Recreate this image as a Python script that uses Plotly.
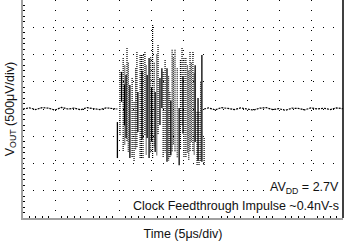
import plotly.graph_objects as go

# Units: x in time divisions (5 us/div), y in vertical divisions (500 uV/div)
# Burst: solid vertical strokes (x, top, bottom)
solid_x   = [2.95, 3.08, 3.17, 3.22, 3.34, 3.59, 3.72, 3.88, 3.94, 4.02, 4.13, 4.28, 4.34, 4.50,
             4.62, 4.88, 5.00, 5.38, 5.47, 5.59]
solid_top = [-0.48, 1.36, 0.90, 1.25, 0.88, 0.62, 1.40, 1.25, 1.87, 0.80, 0.62, 1.14, 1.50, 1.50,
             0.30, 0.04, 1.20, 1.61, 0.40, 1.98]
solid_bot = [-1.80, 0.26, -0.60, -1.06, -1.80, -0.84, -1.10, -1.06, -1.80, -1.20, -1.58, -0.59, 0.04, -1.94,
             -1.70, -2.06, -0.90, -1.21, -1.90, -1.94]

# Burst: dotted vertical strokes
dot_x   = [3.03, 3.13, 3.18, 3.25, 3.29, 3.41, 3.47, 3.52, 3.56, 3.66, 3.70, 3.75, 3.81, 3.85,
           3.99, 4.05, 4.10, 4.18, 4.22, 4.38, 4.44, 4.55, 4.59, 4.66, 4.70, 4.75, 4.82, 4.92,
           4.97, 5.03, 5.09, 5.14, 5.18, 5.22, 5.26, 5.31, 5.35, 5.44, 5.50, 5.55, 5.66]
dot_top = [1.36, 1.87, 1.60, 2.24, 1.70, 1.14, 0.26, 1.50, 2.09, 1.98, 1.98, 1.98, 2.09, 1.60,
           1.90, 3.08, 1.70, 2.00, 2.35, 1.36, 1.80, 1.20, 0.62, 2.17, 1.90, 2.17, 1.50, 1.80,
           2.24, 1.87, 1.87, 1.60, 1.40, 2.09, 1.70, 2.09, 1.30, -0.11, -0.11, 1.00, -1.06]
dot_bot = [-0.95, -1.58, -1.30, -1.21, -1.60, -1.80, -1.94, -1.50, -1.43, -1.80, -1.80, -1.80, -0.95, -1.70,
           -1.60, -1.80, -1.40, -1.70, -0.95, -1.80, -1.60, -1.90, -1.80, -1.58, -1.30, -1.58, -1.80, -1.50,
           -0.59, -1.80, -1.80, -1.60, -1.90, -1.58, -1.20, -1.58, -1.70, -2.06, -2.06, -1.90, -2.06]

# Baseline (quiet) trace before and after the burst
base_left_x = [0.0, 0.2, 0.4, 0.6, 0.8, 1.0, 1.2, 1.4, 1.6, 1.8, 2.0, 2.2, 2.4, 2.6, 2.8, 2.95]
base_left_y = [0.00, 0.04, -0.02, 0.05, 0.03, -0.04, 0.06, 0.00, 0.03, -0.03, 0.05, 0.01, -0.02, 0.04, 0.02, 0.00]
base_right_x = [5.66, 5.8, 6.0, 6.2, 6.4, 6.6, 6.8, 7.0, 7.2, 7.4, 7.6, 7.8, 8.0, 8.2, 8.4, 8.6,
                8.8, 9.0, 9.2, 9.4, 9.6, 9.8, 10.0]
base_right_y = [0.00, 0.04, -0.03, 0.05, 0.02, -0.02, 0.04, 0.00, -0.04, 0.03, 0.05, -0.02, 0.01,
                -0.05, 0.03, 0.02, -0.03, 0.04, 0.00, 0.03, -0.02, 0.04, 0.01]

x_range = [0, 10]
y_range = [-4, 4]


def segs(xs, tops, bots):
    X, Y = [], []
    for x, t, b in zip(xs, tops, bots):
        X += [x, x, None]
        Y += [t, b, None]
    return X, Y


fig = go.Figure()
sx, sy = segs(dot_x, dot_top, dot_bot)
fig.add_trace(go.Scatter(x=sx, y=sy, mode="lines",
                         line=dict(color="black", width=1.2, dash="1px,1px"), hoverinfo="skip"))
sx, sy = segs(solid_x, solid_top, solid_bot)
fig.add_trace(go.Scatter(x=sx, y=sy, mode="lines",
                         line=dict(color="black", width=1.3), hoverinfo="skip"))
fig.add_trace(go.Scatter(x=base_left_x, y=base_left_y, mode="lines",
                         line=dict(color="black", width=1.2, dash="2px,1px"), hoverinfo="skip"))
fig.add_trace(go.Scatter(x=base_right_x, y=base_right_y, mode="lines",
                         line=dict(color="black", width=1.2, dash="2px,1px"), hoverinfo="skip"))

fig.add_shape(type="line", xref="paper", yref="paper", x0=1, x1=1, y0=0, y1=1,
              line=dict(color="black", width=1.5))

fig.add_annotation(x=1, y=-2.9, xref="paper", yref="y", xanchor="right", yanchor="middle",
                   text="AV<sub>DD</sub> = 2.7V", showarrow=False, bgcolor="white",
                   font=dict(family="Liberation Sans, Arial", size=12.5, color="#111"), xshift=-2)
fig.add_annotation(x=1, y=-3.55, xref="paper", yref="y", xanchor="right", yanchor="middle",
                   text="Clock Feedthrough Impulse ~0.4nV-s", showarrow=False, bgcolor="white",
                   font=dict(family="Liberation Sans, Arial", size=12.5, color="#111"), xshift=-2)

fig.update_layout(
    width=346, height=242,
    margin=dict(l=23, r=3, t=0, b=24),
    paper_bgcolor="white", plot_bgcolor="white",
    showlegend=False,
    font=dict(family="Liberation Sans, Arial", size=12, color="#111"),
    xaxis=dict(range=x_range, dtick=1, showticklabels=False, ticks="",
               showgrid=True, gridcolor="black", gridwidth=1, griddash="1px,9px",
               zeroline=False, showline=True, linecolor="#a0a0a0", linewidth=2,
               minor=dict(dtick=0.2, ticks="inside", ticklen=2, tickcolor="black", tickwidth=1, showgrid=False),
               title=dict(text="Time (5μs/div)", standoff=10, font=dict(size=12.5))),
    yaxis=dict(range=y_range, dtick=1, showticklabels=False, ticks="",
               showgrid=True, gridcolor="black", gridwidth=1, griddash="1px,9px",
               zeroline=False, showline=True, linecolor="#a0a0a0", linewidth=2,
               minor=dict(dtick=0.2, ticks="inside", ticklen=2, tickcolor="black", tickwidth=1, showgrid=False),
               title=dict(text="V<sub>OUT</sub> (500μV/div)", standoff=4, font=dict(size=12.5))),
)

fig.write_html("out.html")
